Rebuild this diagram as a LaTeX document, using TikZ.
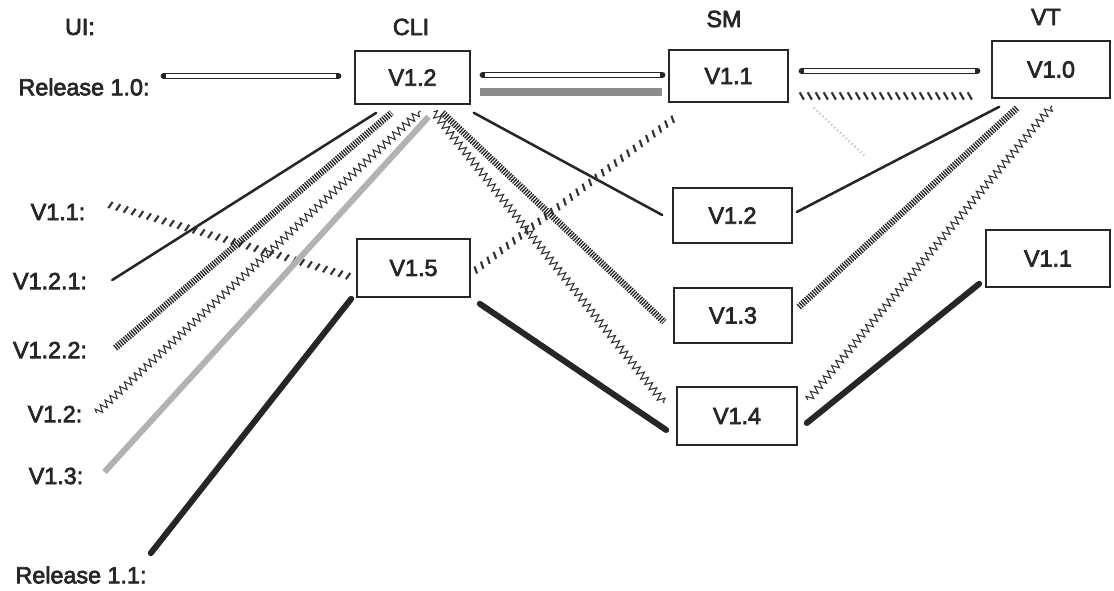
\documentclass[tikz,border=0pt]{standalone}
\usepackage{fontspec}
\setmainfont{Liberation Sans}
\newfontfamily\lblfont{Liberation Sans}[FakeBold=3]
\usetikzlibrary{calc,decorations.pathmorphing,decorations.markings}
\begin{document}
\begin{tikzpicture}[x=0.75pt,y=-0.75pt,
  lbl/.style={font=\lblfont\fontsize{17.5}{20}\selectfont, text=black!85, inner sep=0pt},
  vbox/.style n args={2}{draw=black!85, line width=1.2pt, font=\lblfont\fontsize{17.5}{20}\selectfont, text=black!85, minimum width=#1, minimum height=#2, inner sep=0pt},
  bar/.style={line width=4.8pt, black!85, line cap=round, postaction={draw, white, line width=2.3pt, line cap=butt, shorten <=1.8pt, shorten >=1.8pt}},
  solidl/.style={line width=1.9pt, black!85, line cap=round},
  thickl/.style={line width=4.5pt, black!85, line cap=round},
  hatch/.style={line width=5pt, black!85, dash pattern=on 1pt off 0.9pt},
  ticks/.style={postaction={decorate, decoration={markings, mark=between positions 0 and 1 step 6pt with {\draw[line width=1.6pt, black!80] (-#1,-2.7pt) -- (#1,2.7pt);}}}},
  zz/.style={black!80, line width=0.8pt, decorate, decoration={zigzag, amplitude=2.8pt, segment length=5pt}},
  grayl/.style={line width=4.5pt, black!30},
  grayband/.style={line width=6pt, black!45},
  faint/.style={line width=2pt, black!20, dash pattern=on 1pt off 2pt}
]
\useasboundingbox (0,0) rectangle (1114,590);

% column headers and row labels
\node[lbl] (ui) at (80,27) {UI:};
\node[lbl] (cli) at (411,27) {CLI};
\node[lbl] (sm) at (724,19) {SM};
\node[lbl] (vt) at (1046,17) {VT};
\node[lbl] (rel10) at (84,87) {Release 1.0:};
\node[lbl] (lv11) at (58,212) {V1.1:};
\node[lbl] (lv121) at (50,281) {V1.2.1:};
\node[lbl] (lv122) at (50,350) {V1.2.2:};
\node[lbl] (lv12) at (55,414) {V1.2:};
\node[lbl] (lv13) at (56,476) {V1.3:};
\node[lbl] (rel11) at (81,575) {Release 1.1:};

% version boxes
\node[vbox={86.25pt}{39.75pt}] (c12) at (412.5,77.5) {V1.2};
\node[vbox={84.75pt}{43.5pt}] (c15) at (413.5,268) {V1.5};
\node[vbox={89.25pt}{39pt}] (s11) at (728.5,76) {V1.1};
\node[vbox={89.25pt}{41.25pt}] (s12) at (732.5,215.5) {V1.2};
\node[vbox={88.5pt}{41.25pt}] (s13) at (733,315.5) {V1.3};
\node[vbox={90pt}{43.5pt}] (s14) at (737,416) {V1.4};
\node[vbox={88.5pt}{42.75pt}] (v10) at (1051,69.5) {V1.0};
\node[vbox={93pt}{42.75pt}] (v11) at (1048,258.5) {V1.1};

% Release 1.0 bars
\draw[bar] ($(rel10.east)+(14,-11)$) -- ($(c12.west)+(-16,-1.5)$);
\draw[bar] ($(c12.east)+(12,-2.5)$) -- ($(s11.west)+(-6,-1)$);
\draw[bar] ($(s11.east)+(13,-5)$) -- ($(v10.west)+(-14,1.5)$);

% gray band and ticks under the bars
\draw[grayband] ($(c12.east)+(9,14.5)$) -- ($(s11.west)+(-6,16)$);
\path[ticks=-1.6pt] ($(s11.east)+(13,20)$) -- ($(v10.west)+(-14,26.5)$);

% V1.1 line
\path[ticks=0.9pt] ($(lv11.east)+(25,-7)$) -- ($(c15.west)+(-5,9)$);
% V1.2.1 line
\draw[solidl] ($(lv121.east)+(25,-1)$) -- ($(c12.south west)+(22,8)$);
% V1.2.2 line
\draw[hatch] ($(lv122.east)+(28,-2)$) -- ($(c12.south)+(-21,8)$);
% V1.2 line
\draw[zz] ($(lv12.east)+(14,-1)$) -- ($(c12.south)+(8,6)$);
% V1.3 line
\draw[grayl] ($(lv13.east)+(21,-4)$) -- ($(c12.south)+(16,12)$);
% Release 1.1 line
\draw[thickl] ($(rel11.north east)+(4,-13)$) -- ($(c15.south west)+(-5,1)$);

% CLI V1.2 to SM
\draw[solidl] ($(c12.south east)+(3,8)$) -- ($(s12.west)+(-10,-0.5)$);
\draw[hatch] ($(c12.south)+(30,8)$) -- ($(s13.west)+(-9,6.5)$);
\draw[zz] ($(c12.south)+(21,7)$) -- ($(s14.west)+(-12,-13)$);

% CLI V1.5 to SM
\path[ticks=0.9pt] ($(c15.east)+(5,2)$) -- ($(s11.south west)+(5,16)$);
\draw[thickl] ($(c15.south east)+(9,6)$) -- ($(s14.west)+(-10,14)$);

% SM to VT
\draw[solidl] ($(s12.east)+(4,-3.5)$) -- ($(v10.south west)+(8,8)$);
\draw[hatch] ($(s13.east)+(6,-8.5)$) -- ($(v10.south west)+(26,9)$);
\draw[zz] ($(s14.east)+(10,-16)$) -- ($(v10.south)+(1,7)$);
\draw[thickl] ($(s14.east)+(9,7)$) -- ($(v11.south west)+(-6,-4)$);

% faint trace
\coordinate (fz) at (866,157);
\draw[faint] ($(s11.south east)+(25,5)$) -- (fz);
\end{tikzpicture}
\end{document}
